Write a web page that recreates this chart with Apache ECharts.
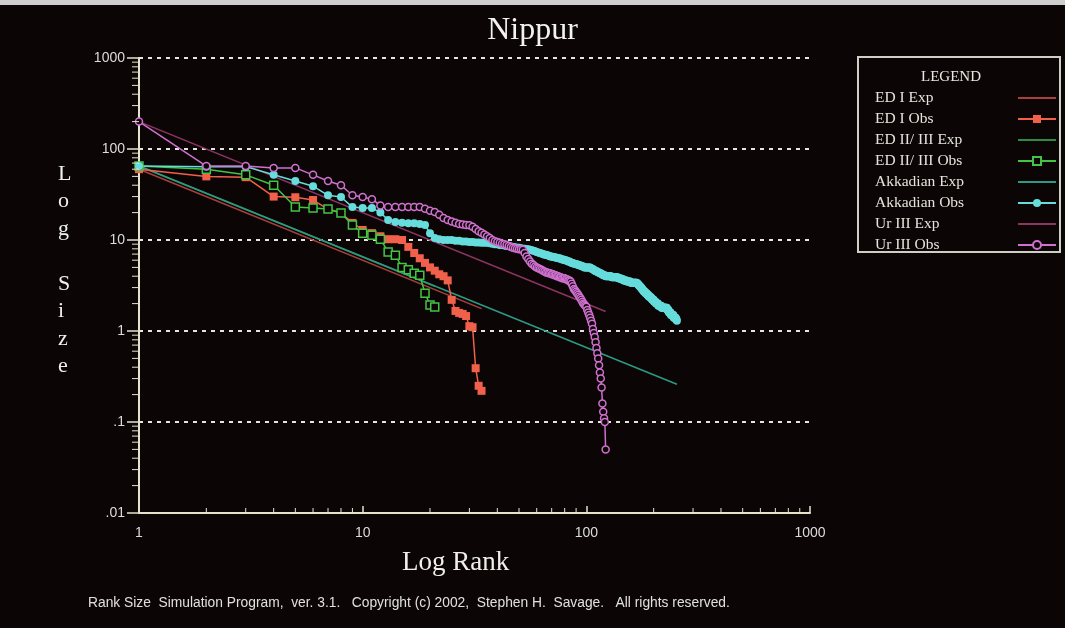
<!DOCTYPE html>
<html>
<head>
<meta charset="utf-8">
<script src="https://cdn.jsdelivr.net/npm/echarts@6/dist/echarts.min.js"></script>
<style>
html,body{margin:0;padding:0;background:#cfcfcf;}
#c{width:1065px;height:628px;}
</style>
</head>
<body>
<div id="c"></div>
<script>
// ---- data ----
const title = 'Nippur';
const xTickValues = [1, 10, 100, 1000];
const xTickLabels = ['1', '10', '100', '1000'];
const yTickValues = [0.01, 0.1, 1, 10, 100, 1000];
const yTickLabels = ['.01', '.1', '1', '10', '100', '1000'];

const seriesNames = ['ED I Exp', 'ED I Obs', 'ED II/ III Exp', 'ED II/ III Obs',
  'Akkadian Exp', 'Akkadian Obs', 'Ur III Exp', 'Ur III Obs'];
const expNames = ['ED I Exp', 'ED II/ III Exp', 'Akkadian Exp', 'Ur III Exp'];

// expected lines: [rank, size] end points
const edIExp = [[1, 60], [34, 1.76]];
const edIIExp = [[1, 65], [21, 3.1]];
const akkExp = [[1, 65], [254, 0.26]];
const urIIIExp = [[1, 200], [122, 1.64]];

// observed sizes by rank (rank = position + 1)
const edIObs = [60,50,49,30,29.5,27.5,21.9,19.8,15.4,12.9,
  11.9,11.0,10.2,10.2,10.0,8.4,7.2,6.3,5.6,5.0,
  4.6,4.2,4.0,3.6,2.2,1.66,1.58,1.54,1.46,1.13,
  1.1,0.39,0.25,0.22];
const edIIObs = [65,60,52,40,23,22.5,21.9,19.8,14.6,11.9,
  11.3,10.2,7.4,6.8,5.0,4.7,4.3,4.1,2.6,1.93,1.84];
const akkObs = [65,64,64,52,44.5,39,31,29.7,23,22.5,
  22.5,20,16.6,15.8,15.5,15.3,15.3,15,14.6,11.9,
  10.5,10.2,10,10,10,9.8,9.8,9.6,9.6,9.5,
  9.5,9.4,9.4,9.3,9.3,9.3,9.2,9.1,9.0,9.0,
  8.8,8.8,8.7,8.6,8.6,8.5,8.4,8.3,8.2,8.2,
  8.1,8.0,8.0,7.9,7.9,7.8,7.7,7.6,7.5,7.4,
  7.3,7.2,7.1,7.0,6.9,6.9,6.8,6.7,6.6,6.6,
  6.5,6.5,6.4,6.4,6.3,6.3,6.2,6.1,6.1,6.0,
  6.0,5.9,5.8,5.8,5.7,5.6,5.6,5.5,5.5,5.4,
  5.4,5.3,5.3,5.2,5.2,5.1,5.1,5.0,5.0,5.0,
  5.0,5.0,5.0,5.0,4.9,4.8,4.8,4.7,4.6,4.6,
  4.5,4.5,4.4,4.4,4.3,4.3,4.2,4.2,4.1,4.1,
  4.1,4.0,4.0,4.0,4.0,4.0,4.0,4.0,4.0,3.9,
  3.9,3.9,3.9,3.9,3.9,3.9,3.9,3.9,3.8,3.8,
  3.8,3.8,3.7,3.7,3.7,3.7,3.6,3.6,3.6,3.6,
  3.6,3.5,3.5,3.5,3.5,3.5,3.5,3.4,3.4,3.4,
  3.4,3.4,3.4,3.4,3.4,3.4,3.4,3.4,3.3,3.3,
  3.2,3.2,3.1,3.1,3.0,3.0,2.9,2.9,2.8,2.8,
  2.7,2.7,2.7,2.6,2.6,2.6,2.5,2.5,2.5,2.4,
  2.4,2.4,2.4,2.3,2.3,2.3,2.2,2.2,2.2,2.2,
  2.1,2.1,2.1,2.1,2.0,2.0,2.0,2.0,2.0,1.9,
  1.9,1.9,1.9,1.9,1.9,1.9,1.8,1.8,1.8,1.8,
  1.8,1.8,1.8,1.8,1.8,1.8,1.8,1.8,1.8,1.7,
  1.7,1.7,1.7,1.6,1.6,1.6,1.6,1.6,1.5,1.5,
  1.5,1.5,1.5,1.5,1.5,1.4,1.4,1.4,1.4,1.4,
  1.4,1.35,1.35,1.3];
const urIIIObs = [200,65,65,62,62,52,44.5,40,31,29.7,
  28.1,24,23,23,23,23,23,23,22,21,
  20.3,19,17.5,16.6,16,15.5,15,14.8,14.6,14.5,
  14,13.2,12.5,12,11.5,11,10.5,10,9.7,9.5,
  9.3,9.1,9,8.8,8.6,8.4,8.2,8.1,8.0,7.9,
  7.9,7.8,7.2,6.6,6.2,5.8,5.5,5.3,5.1,5.0,
  4.9,4.8,4.7,4.6,4.5,4.4,4.4,4.3,4.3,4.2,
  4.2,4.1,4.1,4.0,4.0,3.9,3.9,3.8,3.8,3.8,
  3.7,3.7,3.6,3.6,3.5,3.3,3.1,2.9,2.8,2.7,
  2.6,2.5,2.4,2.3,2.2,2.1,2.0,1.95,1.9,1.85,
  1.7,1.6,1.5,1.4,1.3,1.2,1.05,0.95,0.86,0.75,
  0.65,0.57,0.5,0.42,0.35,0.3,0.24,0.16,0.13,0.11,
  0.1,0.05];

// ---- build ----
const byRank = arr => arr.map((v, i) => [i + 1, v]);
const labelFor = (vals, labs) => v => {
  const e = Math.round(Math.log10(v));
  const idx = vals.findIndex(t => Math.round(Math.log10(t)) === e);
  return idx >= 0 ? labs[idx] : '';
};

// minor tick positions (2..9 within each decade)
const xMinor = [], yMinor = [];
for (let d = 0; d < 3; d++) for (let m = 2; m <= 9; m++) xMinor.push([m * Math.pow(10, d), 0.01]);
for (let d = -2; d < 3; d++) for (let m = 2; m <= 9; m++) yMinor.push([1, m * Math.pow(10, d)]);

const axisCol = '#e4e4cc';
const bg = '#0b0605';
const serif = 'Liberation Serif, DejaVu Serif, serif';
const sans = 'Liberation Sans, Arial, sans-serif';

function expSeries(name, data, color) {
  return {name, type: 'line', data, showSymbol: false, symbol: 'none',
    lineStyle: {color, width: 1.5}, itemStyle: {color}, z: 2, animation: false};
}
function obsSeries(name, arr, color, symbol, filled, size) {
  return {name, type: 'line', data: byRank(arr), symbol, symbolSize: size, showSymbol: true,
    lineStyle: {color, width: 1.5},
    itemStyle: filled ? {color} : {color: bg, borderColor: color, borderWidth: 1.5},
    z: 3, animation: false};
}
function tickSeries(data, dx, dy) {
  return {type: 'custom', coordinateSystem: 'cartesian2d', data, silent: true, clip: false, z: 5,
    animation: false,
    renderItem: (params, api) => {
      const p = api.coord([api.value(0), api.value(1)]);
      return {type: 'line', shape: {x1: p[0], y1: p[1], x2: p[0] + dx, y2: p[1] + dy},
        style: {stroke: axisCol, lineWidth: 1}};
    }};
}

const legendText = {fontFamily: serif, fontSize: 15.5, lineHeight: 15};
const legendCommon = {orient: 'vertical', top: 85, itemGap: 5, itemHeight: 10,
  selectedMode: false, align: 'left'};

const chart = echarts.init(document.getElementById('c'), null, {renderer: 'canvas'});
chart.setOption({
  backgroundColor: '#cfcfcf',
  animation: false,
  graphic: [
    {type: 'rect', shape: {x: 0, y: 5, width: 1065, height: 623}, style: {fill: bg}, z: -10, silent: true},
    {type: 'rect', shape: {x: 858, y: 57, width: 202, height: 195},
      style: {fill: bg, stroke: '#cfcfc4', lineWidth: 2}, z: 0, silent: true},
    {type: 'text', left: 921, top: 70, style: {text: 'LEGEND', fill: '#e8e8e0', font: '15px ' + serif}, z: 10},
    {type: 'text', left: 402, top: 549, style: {text: 'Log Rank', fill: '#f0f0ea', font: '27px ' + serif}, z: 10},
    {type: 'text', left: 58, top: 160, style: {text: 'L\no\ng\n\nS\ni\nz\ne', fill: '#f0f0ea',
      font: '22px ' + serif, lineHeight: 27.5, align: 'center'}, z: 10},
    {type: 'text', left: 88, top: 596, style: {text: 'Rank Size  Simulation Program,  ver. 3.1.   Copyright (c) 2002,  Stephen H.  Savage.   All rights reserved.',
      fill: '#e0e0e0', font: '13.8px ' + sans}, z: 10}
  ],
  title: {text: title, left: 'center', top: 10,
    textStyle: {color: '#f2f2ee', fontFamily: serif, fontWeight: 'normal', fontSize: 32}},
  legend: [
    // names (icons hidden)
    Object.assign({}, legendCommon, {left: 860, itemWidth: 0, data: seriesNames,
      itemStyle: {opacity: 0}, lineStyle: {opacity: 0},
      textStyle: Object.assign({color: '#e4e4dc'}, legendText)}),
    // icons (names hidden)
    Object.assign({}, legendCommon, {left: 1012, itemWidth: 38,
      data: seriesNames.map(n => expNames.includes(n) ? {name: n, itemStyle: {opacity: 0}} : n),
      textStyle: Object.assign({color: 'rgba(0,0,0,0)'}, legendText)})
  ],
  grid: {left: 139, right: 255, top: 58, bottom: 115, containLabel: false},
  xAxis: {
    type: 'log', logBase: 10, min: 1, max: 1000,
    axisLine: {lineStyle: {color: axisCol, width: 2}},
    axisTick: {inside: true, length: 7, lineStyle: {color: axisCol, width: 1.5}},
    axisLabel: {color: '#dcdcdc', fontFamily: sans, fontSize: 14, margin: 13,
      formatter: labelFor(xTickValues, xTickLabels)},
    splitLine: {show: false}, minorTick: {show: false}
  },
  yAxis: {
    type: 'log', logBase: 10, min: 0.01, max: 1000,
    axisLine: {lineStyle: {color: axisCol, width: 2}},
    axisTick: {length: 12, lineStyle: {color: axisCol, width: 1.5}},
    axisLabel: {color: '#dcdcdc', fontFamily: sans, fontSize: 14, margin: 14,
      formatter: labelFor(yTickValues, yTickLabels)},
    splitLine: {show: true, lineStyle: {color: '#e6e6e0', width: 2, type: [4, 5]}},
    minorTick: {show: false}
  },
  series: [
    expSeries(seriesNames[0], edIExp, '#a8403c'),
    obsSeries(seriesNames[1], edIObs, '#f0604a', 'rect', true, 8),
    expSeries(seriesNames[2], edIIExp, '#2f8a46'),
    obsSeries(seriesNames[3], edIIObs, '#44c444', 'rect', false, 8),
    expSeries(seriesNames[4], akkExp, '#2c9a86'),
    obsSeries(seriesNames[5], akkObs, '#66dcdc', 'circle', true, 8),
    expSeries(seriesNames[6], urIIIExp, '#8c3462'),
    obsSeries(seriesNames[7], urIIIObs, '#d070d0', 'circle', false, 7),
    tickSeries(xMinor, 0, -5),
    tickSeries(yMinor, -7, 0)
  ]
});
</script>
</body>
</html>
